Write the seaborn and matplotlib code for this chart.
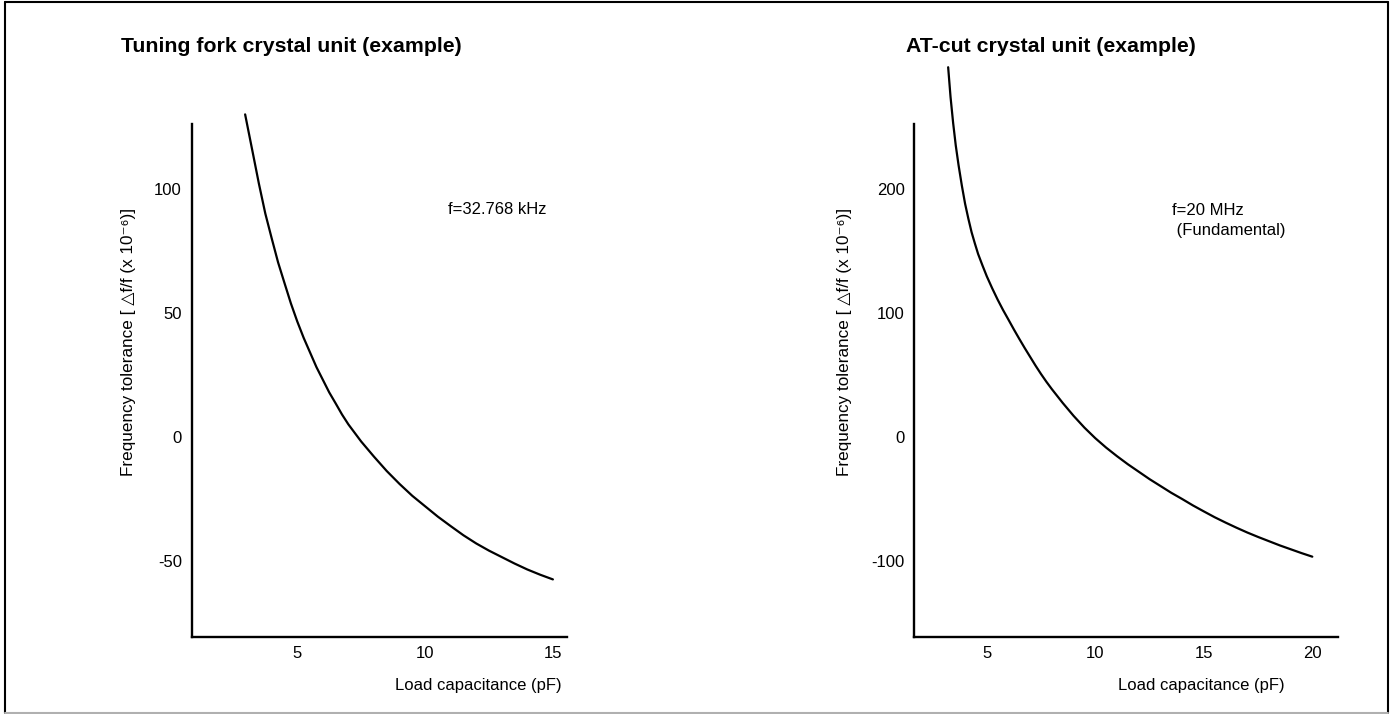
"""Load capacitance vs frequency tolerance for two crystal units"""
import matplotlib
matplotlib.use("Agg")
import matplotlib.pyplot as plt
from matplotlib.lines import Line2D
import seaborn as sns

# Tuning fork crystal unit, f=32.768 kHz
TF_CAP = [2.96, 3.25, 3.5, 3.75, 4.0, 4.25, 4.5, 4.75, 5.0, 5.25, 5.5, 5.75,
          6.0, 6.25, 6.5, 6.75, 7.0, 7.5, 8.0, 8.5, 9.0, 9.5, 10.0, 10.5,
          11.0, 11.5, 12.0, 12.5, 13.0, 13.5, 14.0, 14.5, 15.0]
TF_TOL = [130, 115, 102, 90, 80, 70.3, 62, 53.8, 46.5, 39.9, 34, 28.1,
          23, 17.9, 13.5, 9.0, 5, -1.9, -8, -13.8, -19, -23.8, -28, -32.2,
          -36, -39.7, -43, -45.9, -48.5, -51.1, -53.5, -55.6, -57.5]
TF_XTICKS = [5, 10, 15]
TF_YTICKS = [-50, 0, 50, 100]

# AT-cut crystal unit, f=20 MHz (fundamental)
AT_CAP = [3.22, 3.33, 3.45, 3.57, 3.7, 3.85, 4.0, 4.15, 4.3, 4.45, 4.6, 4.8,
          5.0, 5.25, 5.5, 5.75, 6.0, 6.25, 6.5, 6.75, 7.0, 7.25, 7.5, 7.75,
          8.0, 8.5, 9.0, 9.5, 10.0, 10.5, 11.0, 11.5, 12.0, 12.5, 13.0, 13.5,
          14.0, 14.5, 15.0, 15.5, 16.0, 16.5, 17.0, 17.5, 18.0, 18.5, 19.0,
          19.5, 20.0]
AT_TOL = [298, 274, 253, 235, 219, 202.7, 188, 176, 165, 156, 147.5, 138.3,
          129.5, 119.8, 110.7, 102.3, 94.5, 86.6, 79, 71.6, 64.5, 57.4, 50.7, 44.4,
          38.5, 27.4, 17, 7.5, -1, -8.6, -15.5, -22, -28, -34, -39.5, -45,
          -50, -55.2, -60, -64.7, -69, -73.1, -77, -80.6, -84, -87.4, -90.5,
          -93.6, -96.5]
AT_XTICKS = [5, 10, 15, 20]
AT_YTICKS = [-100, 0, 100, 200]

YLABEL = "Frequency tolerance [ \u25b3f/f (x 10\u207b\u2076)]"
XLABEL = "Load capacitance (pF)"

W, H = 1396, 714

sns.set_style("white")
plt.rcParams['font.family'] = ['Liberation Sans', 'DejaVu Sans']
plt.rcParams['text.color'] = 'black'
plt.rcParams['axes.labelcolor'] = 'black'


def px_box(left, right, top, bottom):
    """Axes rectangle from pixel edges (top-left origin)"""
    return [left / W, (H - bottom) / H, (right - left) / W, (bottom - top) / H]


def draw_panel(fig, box, cap, tol, xlim, ylim, xticks, yticks,
               ylabel_x, xlabel_x, note, note_xy):
    ax = fig.add_axes(box)
    sns.lineplot(x=cap, y=tol, ax=ax, color='black', linewidth=1.6)
    ax.lines[-1].set_clip_on(False)

    ax.set_xlim(xlim)
    ax.set_ylim(ylim)
    ax.set_xticks(xticks)
    ax.set_yticks(yticks)
    ax.set_yticklabels([str(v) for v in yticks])

    sns.despine(ax=ax)
    for side in ['left', 'bottom']:
        ax.spines[side].set_linewidth(1.7)
        ax.spines[side].set_color('black')
    ax.tick_params(axis='y', direction='in', length=7.2, width=0.8,
                   pad=7, labelsize=12, colors='black')
    ax.tick_params(axis='x', direction='in', length=6.5, width=0.8,
                   pad=7, labelsize=12, colors='black')

    # ylabel anchor is the right edge of the rotated text
    ax.set_ylabel(YLABEL, fontsize=12.3)
    ax.yaxis.set_label_coords(ylabel_x, 0.575)
    ax.set_xlabel(XLABEL, fontsize=12, ha='right')
    ax.xaxis.set_label_coords(xlabel_x, -0.081)

    ax.text(note_xy[0], note_xy[1], note, transform=ax.transAxes,
            fontsize=12, ha='left', va='center', linespacing=1.4)
    return ax


def main():
    fig = plt.figure(figsize=(W / 100, H / 100), dpi=100)

    # Left: tuning fork
    draw_panel(fig, px_box(191.7, 566.7, 124.3, 636.7), TF_CAP, TF_TOL,
               (0.87, 15.54), (-80.6, 126), TF_XTICKS, TF_YTICKS,
               -0.148, 0.987, "f=32.768 kHz", (0.684, 0.833))
    # Right: AT-cut
    draw_panel(fig, px_box(914.3, 1337.7, 124.3, 636.7), AT_CAP, AT_TOL,
               (1.66, 21.17), (-161, 252), AT_XTICKS, AT_YTICKS,
               -0.148, 0.874, "f=20 MHz\n (Fundamental)", (0.608, 0.812))

    fig.text(121 / W, 1 - 47 / H, "Tuning fork crystal unit (example)",
             fontsize=15.3, fontweight='bold', ha='left', va='center')
    fig.text(906 / W, 1 - 47 / H, "AT-cut crystal unit (example)",
             fontsize=15.3, fontweight='bold', ha='left', va='center')

    # Outer frame
    l, r, t, b = 5 / W, 1387.7 / W, 1 - 2 / H, 1 - 713 / H
    for xs, ys, col in [([l, r], [t, t], 'black'), ([l, l], [t, b], 'black'),
                        ([r, r], [t, b], 'black'), ([l, r], [b, b], '#b0b0b0')]:
        fig.add_artist(Line2D(xs, ys, transform=fig.transFigure,
                              color=col, linewidth=1.5))

    fig.savefig("out.png", dpi=100)
    plt.close(fig)


if __name__ == "__main__":
    main()
